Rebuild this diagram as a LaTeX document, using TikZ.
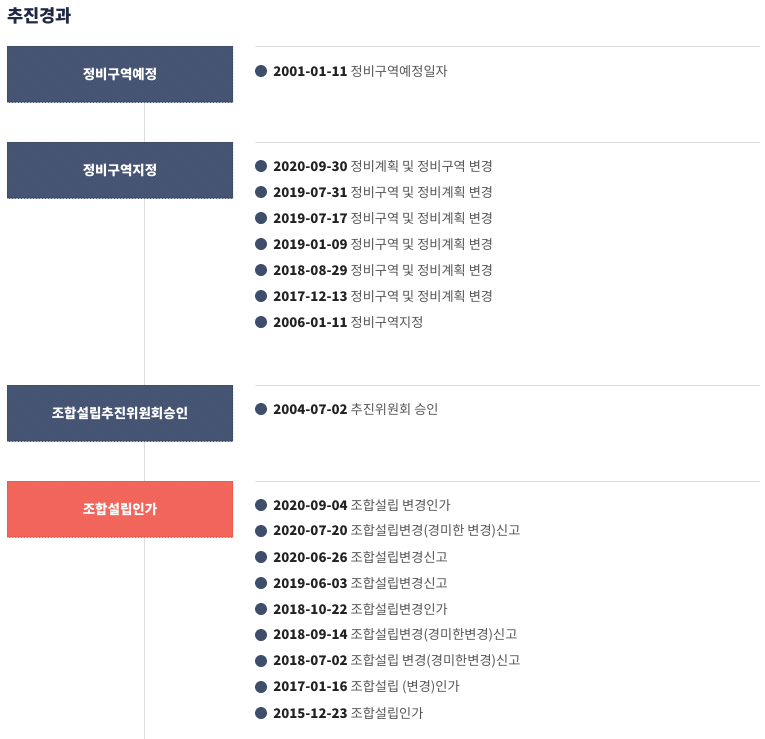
\documentclass[tikz,border=0pt]{standalone}
\usepackage{fontspec}
\setmainfont{Noto Sans CJK KR}
\definecolor{navy}{HTML}{3D4D6A}
\definecolor{navystripe}{HTML}{4A5977}
\definecolor{redbox}{HTML}{F05B50}
\definecolor{redstripe}{HTML}{F36C62}
\definecolor{datec}{HTML}{222222}
\definecolor{descc}{HTML}{555555}
\definecolor{titlec}{HTML}{1E2A44}
\definecolor{rule}{HTML}{DDDDDD}
\tikzset{
  stagebox/.style={minimum width=226*0.75pt, minimum height=56*0.75pt, inner sep=0pt, text=white, font=\bfseries\fontsize{10.1}{12}\selectfont},
  bulletdot/.style={circle, fill=navy, minimum size=12*0.75pt, inner sep=0pt},
  evtext/.style={anchor=west, inner sep=0pt, font=\fontsize{9.9}{12}\selectfont},
  ruleline/.style={draw=rule, line width=0.75pt},
}
\newcommand\evt[4]{%
  \node[bulletdot] (#1dot) at (261,#2) {};
  \node[evtext] (#1) at (273,#2+0.5) {\textcolor{datec}{\bfseries #3} \textcolor{descc}{#4}};
}
\newcommand\stage[4]{%
  \fill[#3] (7,#2) rectangle (233,#2+56);
  \begin{scope}
    \clip (7,#2) rectangle (233,#2+56);
    \foreach \k in {0,3,...,285}{
      \draw[#4, line width=0.9pt] (7+\k-60,#2) -- (7+\k,#2+60);
    }
  \end{scope}
  \draw[#3, line width=0.9pt] (7.6,#2+0.6) rectangle (232.4,#2+55.4);
  \node[stagebox] (#1) at (120,#2+28) {};
}
\begin{document}
\begin{tikzpicture}[x=0.75pt,y=-0.75pt]
\useasboundingbox (0,0) rectangle (765,739);
\node[anchor=west, inner sep=0pt, text=titlec, font=\bfseries\fontsize{13.2}{15}\selectfont] (title) at (7,16) {추진경과};
% vertical timeline
\coordinate (vtop) at (144,102);
\coordinate (vbot) at (144,739);
\draw[ruleline] (vtop) -- (vbot);
% boxes
\stage{b1}{46}{navy}{navystripe}
\stage{b2}{142}{navy}{navystripe}
\stage{b3}{385}{navy}{navystripe}
\stage{b4}{481}{redbox}{redstripe}
\node[stagebox] at (b1) {정비구역예정};
\node[stagebox] at (b2) {정비구역지정};
\node[stagebox] at (b3) {조합설립추진위원회승인};
\node[stagebox] at (b4) {조합설립인가};
% horizontal rules
\foreach \yy/\nm in {46/r1,142/r2,385/r3,481/r4}{
  \coordinate (\nm a) at (255,\yy);
  \coordinate (\nm b) at (760,\yy);
  \draw[ruleline] (\nm a) -- (\nm b);
}
% events
\evt{a1}{71}{2001-01-11}{정비구역예정일자}
\evt{c1}{166}{2020-09-30}{정비계획 및 정비구역 변경}
\evt{c2}{192}{2019-07-31}{정비구역 및 정비계획 변경}
\evt{c3}{218}{2019-07-17}{정비구역 및 정비계획 변경}
\evt{c4}{244}{2019-01-09}{정비구역 및 정비계획 변경}
\evt{c5}{270}{2018-08-29}{정비구역 및 정비계획 변경}
\evt{c6}{296}{2017-12-13}{정비구역 및 정비계획 변경}
\evt{c7}{322}{2006-01-11}{정비구역지정}
\evt{e1}{409}{2004-07-02}{추진위원회 승인}
\evt{f1}{505}{2020-09-04}{조합설립 변경인가}
\evt{f2}{531}{2020-07-20}{조합설립변경(경미한 변경)신고}
\evt{f3}{557}{2020-06-26}{조합설립변경신고}
\evt{f4}{583}{2019-06-03}{조합설립변경신고}
\evt{f5}{609}{2018-10-22}{조합설립변경인가}
\evt{f6}{635}{2018-09-14}{조합설립변경(경미한변경)신고}
\evt{f7}{661}{2018-07-02}{조합설립 변경(경미한변경)신고}
\evt{f8}{687}{2017-01-16}{조합설립 (변경)인가}
\evt{f9}{713}{2015-12-23}{조합설립인가}
\end{tikzpicture}
\end{document}
